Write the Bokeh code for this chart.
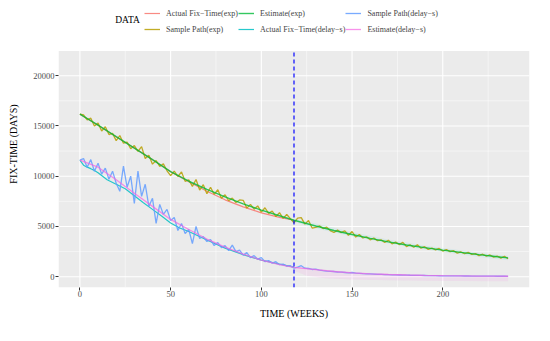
from bokeh.plotting import figure
from bokeh.models import Range1d, FixedTicker, Legend, LegendItem, Label
from bokeh.embed import file_html
from bokeh.resources import INLINE

# ---------------- data ----------------
weeks = list(range(0, 237, 2))

sample_exp = [
    16170, 16100, 15610, 15770, 15000, 15280, 14500, 14920, 14140, 14260,
    13530, 14050, 13280, 13400, 12730, 13050, 12470, 12940, 11760, 12080,
    11200, 11560, 10970, 11230, 10540, 10050, 10510, 9970, 10430, 9490,
    9650, 8990, 9680, 8620, 9160, 8250, 8900, 8200, 8650, 7800,
    8150, 7560, 7820, 7380, 7640, 7600, 6824, 7198, 6722, 7046,
    6420, 6860, 6300, 6540, 5980, 6370, 5807, 6195, 5782, 5370,
    5825, 5880, 5235, 5590, 4845, 4900, 5060, 4790, 4930, 4590,
    4400, 4640, 4390, 4560, 4130, 4500, 3944, 4198, 3852, 3976,
    3670, 3850, 3580, 3670, 3420, 3620, 3276, 3442, 3198, 3414,
    3000, 3178, 2926, 3174, 2842, 2990, 2722, 2854, 2666, 2818,
    2550, 2694, 2498, 2592, 2346, 2470, 2286, 2432, 2218, 2304,
    2100, 2238, 2056, 2164, 1952, 2060, 1850, 2030, 1790,
]

sample_delay = [
    11600, 11750, 10900, 11650, 10500, 11300, 10200, 10800, 9700, 10500,
    9300, 8500, 11000, 8900, 10000, 7300, 10500, 8000, 9200, 7000,
    7800, 5300, 7200, 6200, 6700, 5600, 5900, 4600, 5300, 4300,
    4700, 3300, 5000, 3800, 4000, 3500, 3700, 3100, 3400, 2900,
    3100, 2600, 3150, 2500, 2650, 2150, 2400, 1900, 2100, 1750,
    1900, 1500, 1600, 1350, 1500, 1200, 1250, 1050, 1100, 850,
    950, 1100, 850, 820, 720, 760, 650, 600, 560, 540,
    520, 470, 450, 420, 380, 420, 350, 330, 300, 290,
    280, 260, 240, 230, 210, 200, 190, 180, 170, 160,
    155, 145, 140, 130, 125, 120, 115, 110, 100, 95,
    90, 88, 85, 80, 78, 75, 72, 70, 66, 63,
    60, 58, 55, 53, 50, 48, 46, 45, 44,
]

est_exp_weeks = [0, 10, 20, 30, 40, 50, 60, 70, 80, 90, 100, 110, 118,
                 130, 140, 150, 160, 170, 180, 190, 200, 210, 220, 230, 236]
est_exp = [16170, 15080, 13930, 12800, 11650, 10450, 9500, 8700, 7950, 7250, 6620, 6070, 5620,
           5050, 4600, 4200, 3820, 3470, 3150, 2890, 2650, 2420, 2200, 1990, 1870]

act_exp_weeks = [0, 10, 20, 30, 40, 50, 60, 70, 80, 90, 100, 110, 118]
act_exp = [16170, 15080, 13930, 12800, 11650, 10450, 9450, 8500, 7650, 6950, 6350, 5900, 5620]

act_delay_weeks = [0, 2, 4, 6, 8, 10, 15, 20, 25, 30, 35, 40, 45, 50, 55, 60,
                   70, 80, 90, 100, 110, 118]
act_delay = [11600, 11100, 10900, 10750, 10570, 10350, 9650, 9200, 8750, 8050, 7350, 6700,
             6050, 5350, 4850, 4500, 3650, 2850, 2200, 1650, 1250, 950]

est_delay_weeks = [0, 10, 20, 30, 40, 50, 60, 70, 80, 90, 100, 110, 118,
                   130, 140, 150, 160, 170, 180, 190, 200, 210, 220, 230, 236]
est_delay = [11600, 10900, 9650, 8300, 7000, 5700, 4700, 3750, 2950, 2250, 1650, 1200, 920,
             700, 520, 380, 290, 220, 170, 130, 100, 80, 60, 50, 45]

ci_weeks = [118, 125, 135, 150, 170, 190, 210, 225, 236]
ci_delay_lo = [600, 100, -150, -280, -350, -400, -420, -440, -450]
ci_delay_hi = [1000, 900, 700, 480, 300, 200, 150, 120, 110]
ci_exp_lo = [5450, 5050, 4600, 4000, 3300, 2700, 2200, 1850, 1650]
ci_exp_hi = [5800, 5500, 5100, 4450, 3700, 3100, 2640, 2280, 2090]

split_week = 118

x_ticks = [0, 50, 100, 150, 200]
x_minor = [25, 75, 125, 175, 225]
y_ticks = [0, 5000, 10000, 15000, 20000]
y_minor = [2500, 7500, 12500, 17500]

labels = ["Actual Fix\u2212Time(exp)", "Sample Path(exp)", "Estimate(exp)",
          "Actual Fix\u2212Time(delay\u2212s)", "Sample Path(delay\u2212s)", "Estimate(delay\u2212s)"]
colors = ["#F8766D", "#B79F00", "#00BA38", "#00BFC4", "#619CFF", "#F564E3"]

SERIF = "Liberation Serif"

# panel extent (data units) and the white strip kept above it for the legend
X0, X1 = -11.8, 247.8
Y0, Y1 = -1072, 22457
Y_TOP = 27481

# ---------------- figure ----------------
p = figure(width=534, height=325, output_backend="svg", toolbar_location=None,
           x_range=Range1d(X0, X1), y_range=Range1d(Y0, Y_TOP),
           min_border_left=58, min_border_right=5, min_border_top=0, min_border_bottom=38)

p.background_fill_color = "white"
p.border_fill_color = "white"
p.outline_line_color = None
p.xgrid.visible = False
p.ygrid.visible = False

# gray panel + grid
p.quad(left=X0, right=X1, bottom=Y0, top=Y1, fill_color="#EBEBEB", line_color=None)
p.segment(x0=x_minor, x1=x_minor, y0=[Y0] * len(x_minor), y1=[Y1] * len(x_minor),
          line_color="white", line_width=0.5)
p.segment(x0=[X0] * len(y_minor), x1=[X1] * len(y_minor), y0=y_minor, y1=y_minor,
          line_color="white", line_width=0.5)
p.segment(x0=x_ticks, x1=x_ticks, y0=[Y0] * len(x_ticks), y1=[Y1] * len(x_ticks),
          line_color="white", line_width=1.1)
p.segment(x0=[X0] * len(y_ticks), x1=[X1] * len(y_ticks), y0=y_ticks, y1=y_ticks,
          line_color="white", line_width=1.1)

p.xaxis.ticker = FixedTicker(ticks=x_ticks)
p.yaxis.ticker = FixedTicker(ticks=y_ticks)
p.yaxis.formatter.use_scientific = False
p.yaxis.bounds = (Y0, Y1)

for ax in (p.xaxis, p.yaxis):
    ax.axis_line_color = None
    ax.major_tick_line_color = "#333333"
    ax.major_tick_out = 3
    ax.major_tick_in = 0
    ax.minor_tick_line_color = None
    ax.major_label_text_font = SERIF
    ax.major_label_text_font_size = "8.5px"
    ax.major_label_text_color = "#4D4D4D"
    ax.major_label_standoff = 1
    ax.axis_label_text_font = SERIF
    ax.axis_label_text_font_size = "10px"
    ax.axis_label_text_font_style = "normal"
    ax.axis_label_text_color = "black"

p.xaxis.major_label_standoff = 0
p.xaxis.axis_label = "TIME (WEEKS)"
p.xaxis.axis_label_standoff = 8
p.yaxis.axis_label = "FIX-TIME (DAYS)"
p.yaxis.axis_label_standoff = 11

# ribbons
p.varea(x=ci_weeks, y1=ci_exp_lo, y2=ci_exp_hi, fill_color="#00BFC4", fill_alpha=0.08)
p.varea(x=ci_weeks, y1=ci_delay_lo, y2=ci_delay_hi, fill_color="#F564E3", fill_alpha=0.10)

r_act_exp = p.line(act_exp_weeks, act_exp, line_color=colors[0], line_width=1.2, line_alpha=0.85)
r_smp_exp = p.line(weeks, sample_exp, line_color=colors[1], line_width=1.3, line_alpha=0.85)
r_est_exp = p.line(est_exp_weeks, est_exp, line_color=colors[2], line_width=1.4, line_alpha=0.8)
r_act_del = p.line(act_delay_weeks, act_delay, line_color=colors[3], line_width=1.2, line_alpha=0.85)
r_smp_del = p.line(weeks, sample_delay, line_color=colors[4], line_width=1.3, line_alpha=0.85)
r_est_del = p.line(est_delay_weeks, est_delay, line_color=colors[5], line_width=1.3, line_alpha=0.7)

# vertical split marker, limited to the panel
p.segment(x0=[split_week], x1=[split_week], y0=[Y0], y1=[Y1], line_color="#0000FF",
          line_dash="4 3", line_width=1.3, line_alpha=0.9)

# empty renderer used only to paint the grey legend key backgrounds
key_bg = p.quad(left=[], right=[], bottom=[], top=[], fill_color="#EBEBEB", line_color=None)

renderers = [r_act_exp, r_smp_exp, r_est_exp, r_act_del, r_smp_del, r_est_del]
items = [LegendItem(label=l, renderers=[key_bg, r]) for l, r in zip(labels, renderers)]
legend = Legend(items=items, location=(86, 250), orientation="vertical", nrows=2,
                glyph_width=16, glyph_height=16, label_height=16, spacing=0,
                padding=2, margin=0, label_standoff=6,
                label_text_font=SERIF, label_text_font_size="8px",
                border_line_color=None, background_fill_alpha=0.0)
p.add_layout(legend, "center")

p.add_layout(Label(x=69, y=268, x_units="screen", y_units="screen", text="DATA",
                   text_align="center", text_baseline="middle",
                   text_font=SERIF, text_font_size="9.5px", text_color="black"))

open("out.html", "w").write(file_html(p, INLINE))
